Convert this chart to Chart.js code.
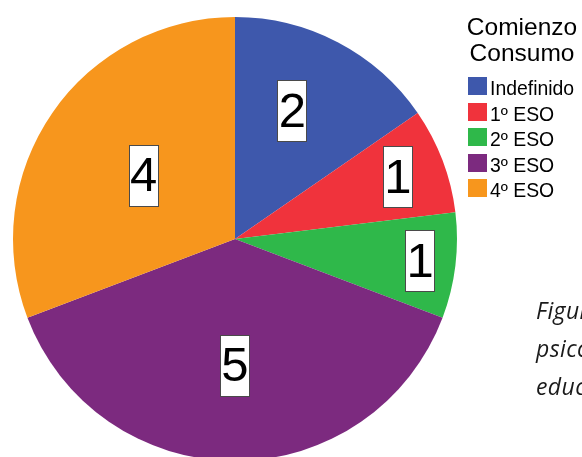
<!DOCTYPE html>
<html>
<head>
<meta charset="utf-8">
<script src="https://cdn.jsdelivr.net/npm/chart.js@4"></script>
<style>
    html, body { margin: 0; padding: 0; background: #fff; overflow: hidden; width: 582px; height: 457px; }
    #wrap { position: absolute; left: 0; top: 0; width: 582px; height: 461px; }
    #caption {
        position: absolute; left: 536px; top: 291px; white-space: nowrap;
        font-family: "Open Sans", "Noto Sans", sans-serif; font-style: italic;
        font-size: 23px; letter-spacing: 0.4px; line-height: 38px; color: #1a1a1a;
    }
</style>
</head>
<body>
<div id="wrap"><canvas id="pie"></canvas></div>
<div id="caption">Figura 5. Comienzo del consumo de sustancias<br>psicoactivas según el curso de la<br>educación secundaria</div>

<script>
// Comienzo del consumo: número de alumnos por curso
const categories = ["Indefinido", "1º ESO", "2º ESO", "3º ESO", "4º ESO"];
const counts = [2, 1, 1, 5, 4];
const legendTitle = ["Comienzo", "Consumo"];

const sliceColors = ["#3e58ac", "#f0333c", "#2fb84a", "#7c2a7f", "#f7961d"];

// donde cae cada etiqueta dentro de su sector (fracción del radio, giro en grados)
const labelRadius = [0.63, 0.785, 0.84, 0.57, 0.50];
const labelTurn = [-3.5, 0, 0, 0, 0];

const FONT = '"Liberation Sans", Arial, sans-serif';

// cajas blancas con el valor de cada sector
const valueBoxes = {
    id: 'valueBoxes',
    afterDatasetsDraw(chart) {
        const ctx = chart.ctx;
        const meta = chart.getDatasetMeta(0);
        meta.data.forEach((arc, i) => {
            const a = (arc.startAngle + arc.endAngle) / 2 + labelTurn[i] * Math.PI / 180;
            const r = arc.outerRadius * labelRadius[i];
            const x = arc.x + r * Math.cos(a);
            const y = arc.y + r * Math.sin(a);
            const w = 30, h = 62;
            ctx.save();
            ctx.fillStyle = '#ffffff';
            ctx.strokeStyle = '#4a4a4a';
            ctx.lineWidth = 1;
            ctx.fillRect(Math.round(x - w / 2), Math.round(y - h / 2), w, h);
            ctx.strokeRect(Math.round(x - w / 2) + 0.5, Math.round(y - h / 2) + 0.5, w - 1, h - 1);
            ctx.fillStyle = '#000000';
            ctx.font = '49px ' + FONT;
            ctx.textAlign = 'center';
            ctx.textBaseline = 'middle';
            ctx.fillText(String(counts[i]), x, y + 2);
            ctx.restore();
        });
    }
};

// leyenda a la derecha del pastel
const sideLegend = {
    id: 'sideLegend',
    afterDraw(chart) {
        const ctx = chart.ctx;
        ctx.save();
        ctx.fillStyle = '#000000';
        ctx.font = '24.5px ' + FONT;
        ctx.textAlign = 'center';
        ctx.textBaseline = 'alphabetic';
        legendTitle.forEach((t, i) => ctx.fillText(t, 522, 35 + i * 26));

        ctx.font = '19.4px ' + FONT;
        ctx.textAlign = 'left';
        categories.forEach((c, i) => {
            const top = 77 + i * 25.5;
            ctx.fillStyle = sliceColors[i];
            ctx.fillRect(468, Math.round(top), 19, 18);
            ctx.fillStyle = '#000000';
            ctx.fillText(c, 490, Math.round(top) + 18);
        });
        ctx.restore();
    }
};

new Chart(document.getElementById('pie'), {
    type: 'pie',
    data: {
        labels: categories,
        datasets: [{
            data: counts,
            backgroundColor: sliceColors,
            borderWidth: 0
        }]
    },
    options: {
        responsive: true,
        maintainAspectRatio: false,
        animation: false,
        layout: { padding: { left: 13, top: 17, right: 125, bottom: 0 } },
        plugins: {
            legend: { display: false },
            tooltip: { enabled: false }
        }
    },
    plugins: [valueBoxes, sideLegend]
});
</script>
</body>
</html>
